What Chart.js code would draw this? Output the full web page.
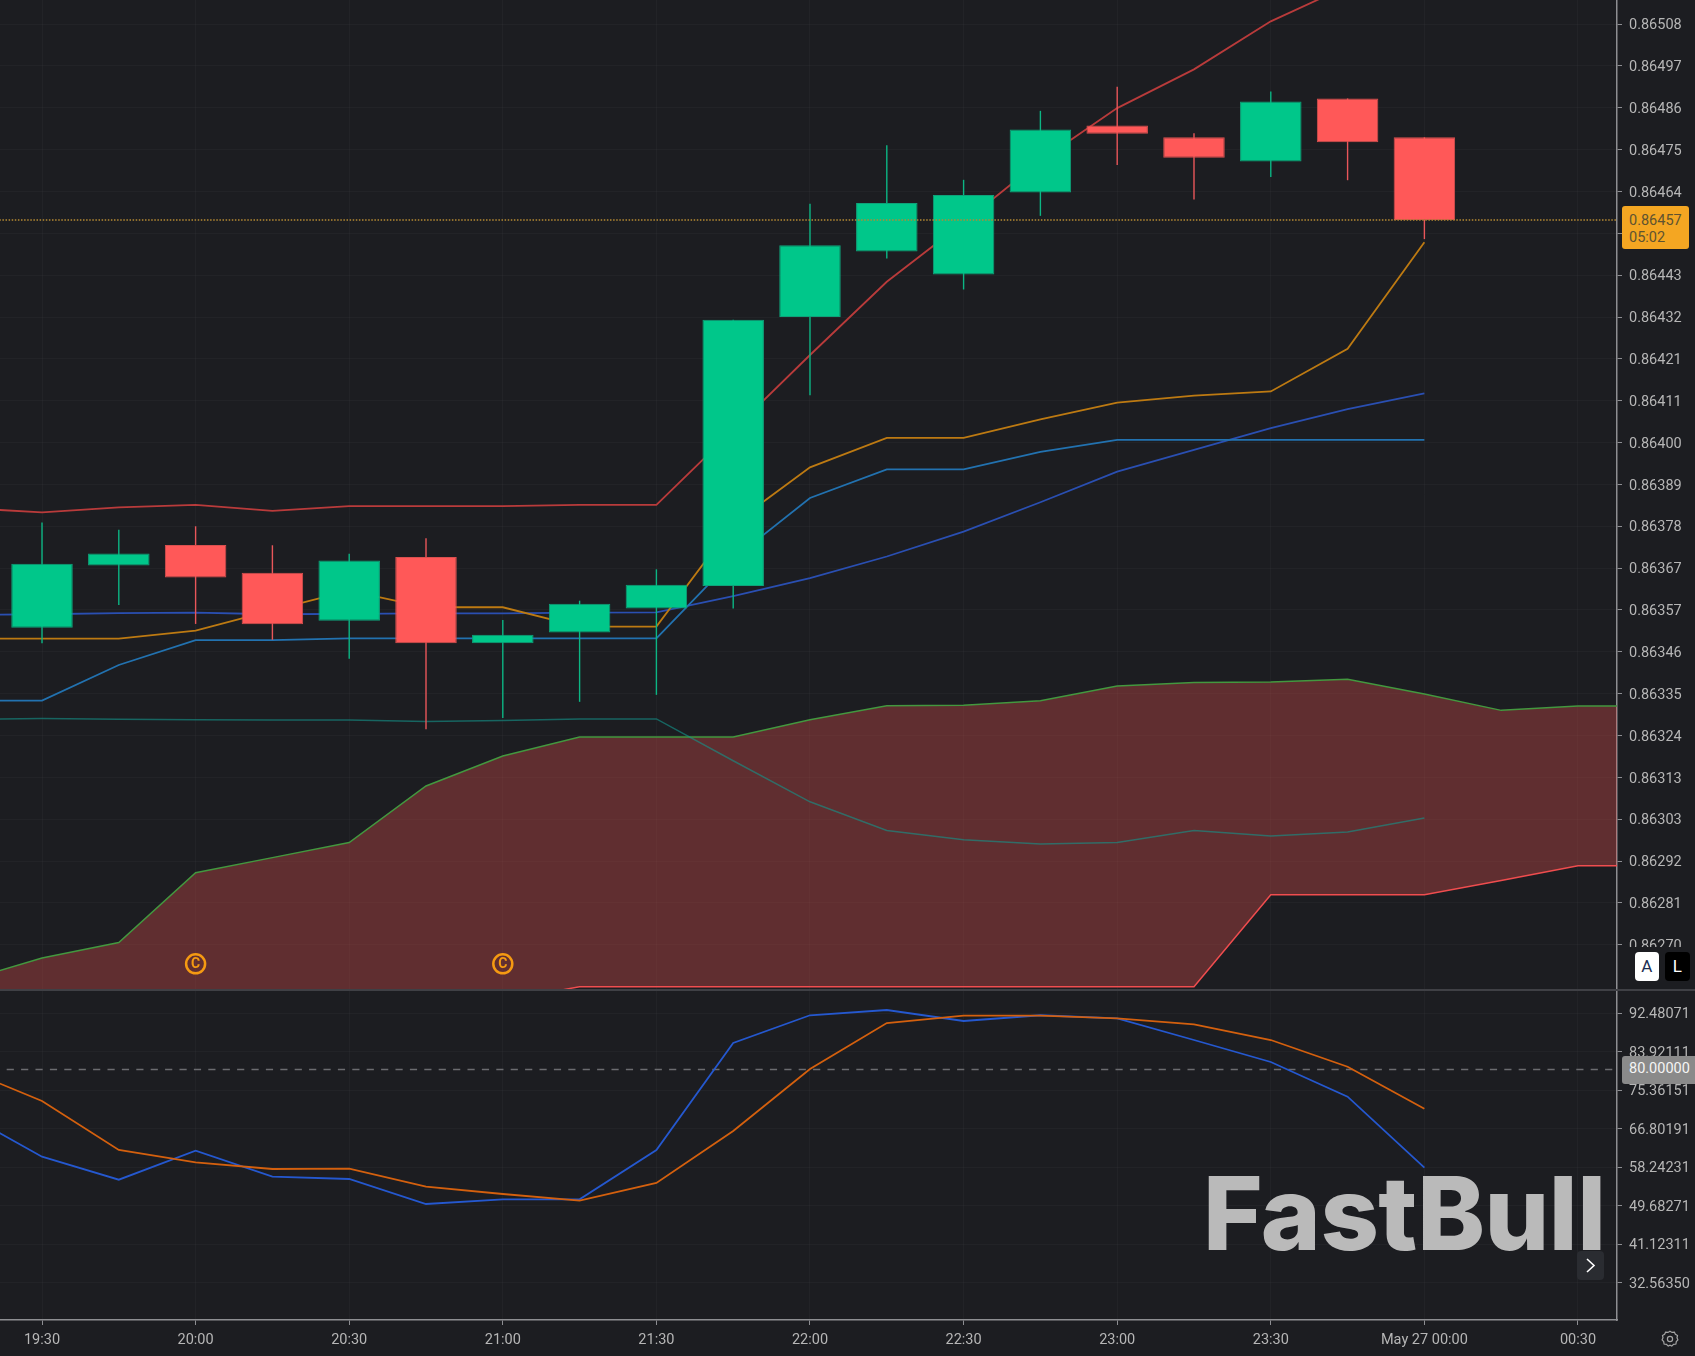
<!DOCTYPE html>
<html>
<head>
<meta charset="utf-8">
<title>FastBull chart</title>
<script src="https://cdn.jsdelivr.net/npm/chart.js@4"></script>
<style>
    html, body { margin: 0; padding: 0; background: #1c1d21; }
    body { position: relative; width: 1695px; height: 1356px; overflow: hidden; font-family: Roboto, sans-serif; }
    canvas { position: absolute; left: 0; display: block; }
    #priceChart { top: 0; }
    #oscChart { top: 990px; }
    .box { position: absolute; }
    #divider { left: 0; top: 988.5px; width: 1695px; height: 2px; background: #3f4045; }
    #axisMask { left: 1618.5px; top: 947px; width: 76.5px; height: 41.5px; background: #1c1d21; }
    #priceTag { left: 1622px; top: 206px; width: 60px; padding-left: 7px; padding-top: 5.5px; height: 37.5px; border-radius: 3px; background: #f4a622; color: #5f5330; font-size: 14.5px; line-height: 17px; }
    #levelTag { left: 1622px; top: 1056px; width: 66px; padding-left: 7px; height: 28px; line-height: 25px; border-radius: 3px 0 0 3px; background: #8a8a8a; color: #f4f4f4; font-size: 14.5px; }
    .scaleBtn { top: 952px; width: 24.5px; height: 29px; line-height: 29px; text-align: center; border-radius: 4px; font-size: 17px; }
    #btnA { left: 1634.5px; background: #ffffff; color: #1d2f52; }
    #btnL { left: 1665px; background: #000000; color: #ffffff; }
    #logo { left: 1203px; top: 1157px; font-family: Inter, sans-serif; font-weight: 800; font-size: 102px; letter-spacing: -0.5px; line-height: 112px; color: #bababa; white-space: nowrap; }
    #nextBtn { left: 1577px; top: 1251px; width: 27px; height: 29px; border-radius: 4px; background: #2a2c31; }
    #gear { left: 1661px; top: 1330px; }
</style>
</head>
<body>
<canvas id="priceChart" width="1695" height="989"></canvas>
<canvas id="oscChart" width="1695" height="366"></canvas>

<div class="box" id="divider"></div>
<div class="box" id="axisMask"></div>
<div class="box" id="priceTag">0.86457<br>05:02</div>
<div class="box" id="levelTag">80.00000</div>
<div class="box scaleBtn" id="btnA">A</div>
<div class="box scaleBtn" id="btnL">L</div>
<div class="box" id="logo">FastBull</div>
<div class="box" id="nextBtn">
    <svg width="27" height="29"><path d="M10 8 L17 14.5 L10 21" fill="none" stroke="#ffffff" stroke-width="1.6"/></svg>
</div>
<div class="box" id="gear">
    <svg width="18" height="18" viewBox="0 0 18 18" fill="none" stroke="#a4a4a4" stroke-width="1.2">
        <path d="M9 1.2 L11 2.4 L13.4 2.2 L14.4 4.3 L16.5 5.5 L16 7.8 L16.9 9.9 L15.3 11.6 L14.9 14 L12.5 14.4 L10.8 16.1 L9 15.2 L7.2 16.1 L5.5 14.4 L3.1 14 L2.7 11.6 L1.1 9.9 L2 7.8 L1.5 5.5 L3.6 4.3 L4.6 2.2 L7 2.4 Z"/>
        <circle cx="9" cy="9" r="2.6"/>
    </svg>
</div>

<script>
// candles, one every 15 minutes from 19:30
const candleOpen = [0.863522, 0.863683, 0.863736, 0.863664, 0.863540, 0.863705, 0.863482, 0.863510, 0.863572, 0.863630, 0.864324, 0.864493, 0.864434, 0.864645, 0.864818, 0.864788, 0.864725, 0.864888, 0.864788];
const candleHigh = [0.863794, 0.863775, 0.863784, 0.863735, 0.863713, 0.863753, 0.863542, 0.863592, 0.863673, 0.864317, 0.864616, 0.864767, 0.864678, 0.864856, 0.864918, 0.864798, 0.864906, 0.864888, 0.864788];
const candleLow = [0.863482, 0.863581, 0.863532, 0.863491, 0.863442, 0.863260, 0.863289, 0.863331, 0.863349, 0.863572, 0.864122, 0.864475, 0.864395, 0.864585, 0.864716, 0.864627, 0.864685, 0.864677, 0.864525];
const candleClose = [0.863687, 0.863714, 0.863652, 0.863531, 0.863696, 0.863482, 0.863504, 0.863584, 0.863633, 0.864317, 0.864509, 0.864618, 0.864639, 0.864808, 0.864797, 0.864735, 0.864880, 0.864775, 0.864574];

// these start one bar before the first candle, off the left edge
const upperRed = [0.863831, 0.863820, 0.863833, 0.863839, 0.863824, 0.863836, 0.863836, 0.863836, 0.863839, 0.863839, 0.864032, 0.864226, 0.864415, 0.864568, 0.864727, 0.864863, 0.864963, 0.865087, 0.865178, 0.865258];
const orangeLine = [0.863494, 0.863494, 0.863494, 0.863515, 0.863567, 0.863618, 0.863575, 0.863575, 0.863525, 0.863525, 0.863790, 0.863936, 0.864012, 0.864012, 0.864060, 0.864103, 0.864121, 0.864132, 0.864242, 0.864517];
const lightBlue = [0.863334, 0.863334, 0.863426, 0.863490, 0.863490, 0.863495, 0.863495, 0.863495, 0.863495, 0.863495, 0.863700, 0.863857, 0.863931, 0.863931, 0.863976, 0.864007, 0.864007, 0.864007, 0.864007, 0.864007];
const darkBlue = [0.863555, 0.863557, 0.863560, 0.863561, 0.863557, 0.863558, 0.863559, 0.863559, 0.863561, 0.863562, 0.863604, 0.863650, 0.863706, 0.863770, 0.863846, 0.863925, 0.863981, 0.864037, 0.864086, 0.864127];
const tealLine = [0.863286, 0.863288, 0.863286, 0.863285, 0.863284, 0.863284, 0.863280, 0.863283, 0.863287, 0.863287, 0.863179, 0.863073, 0.862999, 0.862975, 0.862964, 0.862968, 0.862999, 0.862985, 0.862995, 0.863031];
const cloudTop = [0.862611, 0.862670, 0.862710, 0.862890, 0.862929, 0.862968, 0.863114, 0.863191, 0.863240, 0.863240, 0.863240, 0.863285, 0.863321, 0.863322, 0.863334, 0.863372, 0.863381, 0.863382, 0.863389, 0.863351, 0.863309, 0.863320, 0.863320];
const cloudBottom = [0.862536, 0.862536, 0.862536, 0.862536, 0.862536, 0.862536, 0.862536, 0.862559, 0.862596, 0.862596, 0.862596, 0.862596, 0.862596, 0.862596, 0.862596, 0.862596, 0.862596, 0.862833, 0.862833, 0.862833, 0.862870, 0.862908, 0.862908];
const lastPrice = [0.864574, 0.864574];

// stochastic pane
const stochBlue = [70.11, 60.59, 55.47, 61.92, 56.14, 55.63, 50.07, 51.11, 51.11, 62.08, 85.87, 92.04, 93.21, 90.77, 92.04, 91.37, 86.54, 81.65, 73.93, 58.14];
const stochOrange = [80.03, 72.98, 62.08, 59.34, 57.85, 57.92, 53.92, 52.29, 50.80, 54.74, 66.30, 80.09, 90.32, 91.95, 91.95, 91.37, 90.03, 86.54, 80.60, 71.26];
const stochLevel = [80, 80];

// the "C" event markers
const eventBars = [2, 6];
const eventPrice = 0.862655;

const timeBars = [0, 2, 4, 6, 8, 10, 12, 14, 16, 18, 20];
const timeLabels = ["19:30", "20:00", "20:30", "21:00", "21:30", "22:00", "22:30", "23:00", "23:30", "May 27 00:00", "00:30"];

const priceTicks = [0.865080, 0.864972, 0.864864, 0.864756, 0.864648, 0.864540, 0.864432, 0.864324, 0.864216, 0.864108, 0.864000, 0.863892, 0.863784, 0.863676, 0.863568, 0.863460, 0.863352, 0.863244, 0.863136, 0.863028, 0.862920, 0.862812, 0.862704];
const priceLabels = ["0.86508", "0.86497", "0.86486", "0.86475", "0.86464", "", "0.86443", "0.86432", "0.86421", "0.86411", "0.86400", "0.86389", "0.86378", "0.86367", "0.86357", "0.86346", "0.86335", "0.86324", "0.86313", "0.86303", "0.86292", "0.86281", "0.86270"];
const stochTicks = [92.48071, 83.92111, 75.36151, 66.80191, 58.24231, 49.68271, 41.12311, 32.56350];

const bgGrid = "rgba(255,255,255,0.028)";
const axisColor = "#8d8e92";
const labelColor = "#b6b6b6";
const labelFont = { family: "Roboto", size: 14.5 };
const upColor = "#00c78a";
const downColor = "#ff5858";

const xMin = -0.547;
const xMax = 20.508;

// series start at a given bar, bar -1 is left of the first candle
function points(values, firstBar) {
    return values.map((v, i) => ({ x: firstBar + i, y: v }));
}

function line(label, values, firstBar, color, order, extra) {
    return Object.assign({
        type: "line",
        label: label,
        data: points(values, firstBar),
        borderColor: color,
        borderWidth: 1.8,
        pointRadius: 0,
        tension: 0,
        fill: false,
        order: order
    }, extra || {});
}

// labels at the plot edges must not push the plot inwards
function noPadding(scale) {
    scale.paddingTop = 0;
    scale.paddingBottom = 0;
    scale.paddingLeft = 0;
    scale.paddingRight = 0;
}

function xScale(showLabels) {
    return {
        type: "linear",
        min: xMin,
        max: xMax,
        offset: false,
        afterBuildTicks: (scale) => {
            scale.ticks = timeBars.map(b => ({ value: b }));
        },
        afterFit: (scale) => {
            scale.height = showLabels ? 36 : 0;
            noPadding(scale);
        },
        grid: { color: bgGrid, offset: false, drawTicks: showLabels, tickLength: 5, tickColor: axisColor },
        border: { display: showLabels, color: axisColor, width: 1.5 },
        ticks: {
            display: showLabels,
            autoSkip: false,
            maxRotation: 0,
            padding: 7,
            color: labelColor,
            font: labelFont,
            callback: (value, index) => timeLabels[index]
        }
    };
}

function yScale(ticks, labels, min, max) {
    return {
        type: "linear",
        position: "right",
        min: min,
        max: max,
        afterBuildTicks: (scale) => {
            scale.ticks = ticks.map(v => ({ value: v }));
        },
        afterFit: (scale) => {
            scale.width = 78;
            noPadding(scale);
        },
        grid: { color: bgGrid, tickLength: 5, tickColor: axisColor },
        border: { color: axisColor, width: 1.5 },
        ticks: {
            autoSkip: false,
            padding: 7,
            labelOffset: 1.5,
            color: labelColor,
            font: labelFont,
            callback: (value, index) => labels[index]
        }
    };
}

// writes the letter inside the event circles
const eventLetters = {
    id: "eventLetters",
    afterDatasetsDraw(chart) {
        const { ctx, scales } = chart;
        ctx.save();
        ctx.fillStyle = "#f59a12";
        ctx.font = "700 14px Roboto";
        ctx.textAlign = "center";
        ctx.textBaseline = "middle";
        eventBars.forEach(b => {
            ctx.fillText("C", scales.x.getPixelForValue(b), scales.y.getPixelForValue(eventPrice) + 1);
        });
        ctx.restore();
    }
};

const bars = candleOpen.map((o, i) => i);
const candleColors = bars.map(i => candleClose[i] >= candleOpen[i] ? upColor : downColor);
const wickColors = bars.map(i => candleClose[i] >= candleOpen[i] ? "#0cb684" : "#e9565a");
const edgeColors = bars.map(i => candleClose[i] >= candleOpen[i] ? "#0fa27a" : "#d9504f");

new Chart(document.getElementById("priceChart"), {
    type: "bar",
    data: {
        datasets: [
            {
                label: "Bodies",
                data: bars.map(i => ({ x: i, y: [candleOpen[i], candleClose[i]] })),
                backgroundColor: candleColors,
                borderColor: edgeColors,
                borderWidth: 1,
                borderSkipped: false,
                inflateAmount: 0,
                barThickness: 61.5,
                grouped: false,
                order: 2
            },
            {
                label: "Wicks",
                data: bars.map(i => ({ x: i, y: [candleLow[i], candleHigh[i]] })),
                backgroundColor: wickColors,
                borderWidth: 0,
                inflateAmount: 0,
                barThickness: 1.4,
                grouped: false,
                order: 3
            },
            line("Last price", lastPrice, -1, "#b58a33", 1, {
                data: [{ x: -1, y: lastPrice[0] }, { x: 21, y: lastPrice[1] }],
                borderWidth: 1.5,
                borderDash: [1.5, 1.6]
            }),
            line("Upper", upperRed, -1, "#b93b3b", 4),
            line("Orange", orangeLine, -1, "#bd7a12", 4),
            line("Light blue", lightBlue, -1, "#2272b0", 4),
            line("Dark blue", darkBlue, -1, "#2a4fb2", 4),
            line("Teal", tealLine, -1, "rgba(20,150,140,0.6)", 4, { borderWidth: 1.5 }),
            line("Cloud top", cloudTop, -1, "#43983f", 6, {
                borderWidth: 1.5,
                fill: "+1",
                backgroundColor: "rgba(239,83,80,0.32)"
            }),
            line("Cloud bottom", cloudBottom, -1, "#f04c4f", 6, { borderWidth: 1.5 }),
            {
                type: "line",
                label: "Events",
                data: eventBars.map(b => ({ x: b, y: eventPrice })),
                showLine: false,
                pointRadius: 9.5,
                pointBorderWidth: 2.5,
                pointBorderColor: "#f59a12",
                pointBackgroundColor: "rgba(0,0,0,0)",
                order: 5
            }
        ]
    },
    options: {
        responsive: false,
        animation: false,
        devicePixelRatio: 1,
        layout: { padding: 0, autoPadding: false },
        plugins: { legend: { display: false }, tooltip: { enabled: false } },
        scales: {
            x: xScale(false),
            y: yScale(priceTicks, priceLabels, 0.862590, 0.865142)
        }
    },
    plugins: [eventLetters]
});

new Chart(document.getElementById("oscChart"), {
    type: "line",
    data: {
        datasets: [
            line("Level", stochLevel, -1, "#6b6c70", 3, {
                data: [{ x: -0.46, y: stochLevel[0] }, { x: 21, y: stochLevel[1] }],
                borderWidth: 1.5,
                borderDash: [7.2, 7.2]
            }),
            line("Stoch K", stochBlue, -1, "#2558cf", 2),
            line("Stoch D", stochOrange, -1, "#d4600e", 1)
        ]
    },
    options: {
        responsive: false,
        animation: false,
        devicePixelRatio: 1,
        layout: { padding: 0, autoPadding: false },
        plugins: { legend: { display: false }, tooltip: { enabled: false } },
        scales: {
            x: xScale(true),
            y: yScale(stochTicks, stochTicks.map(v => v.toFixed(5)), 24.27, 97.66)
        }
    }
});
</script>
</body>
</html>
